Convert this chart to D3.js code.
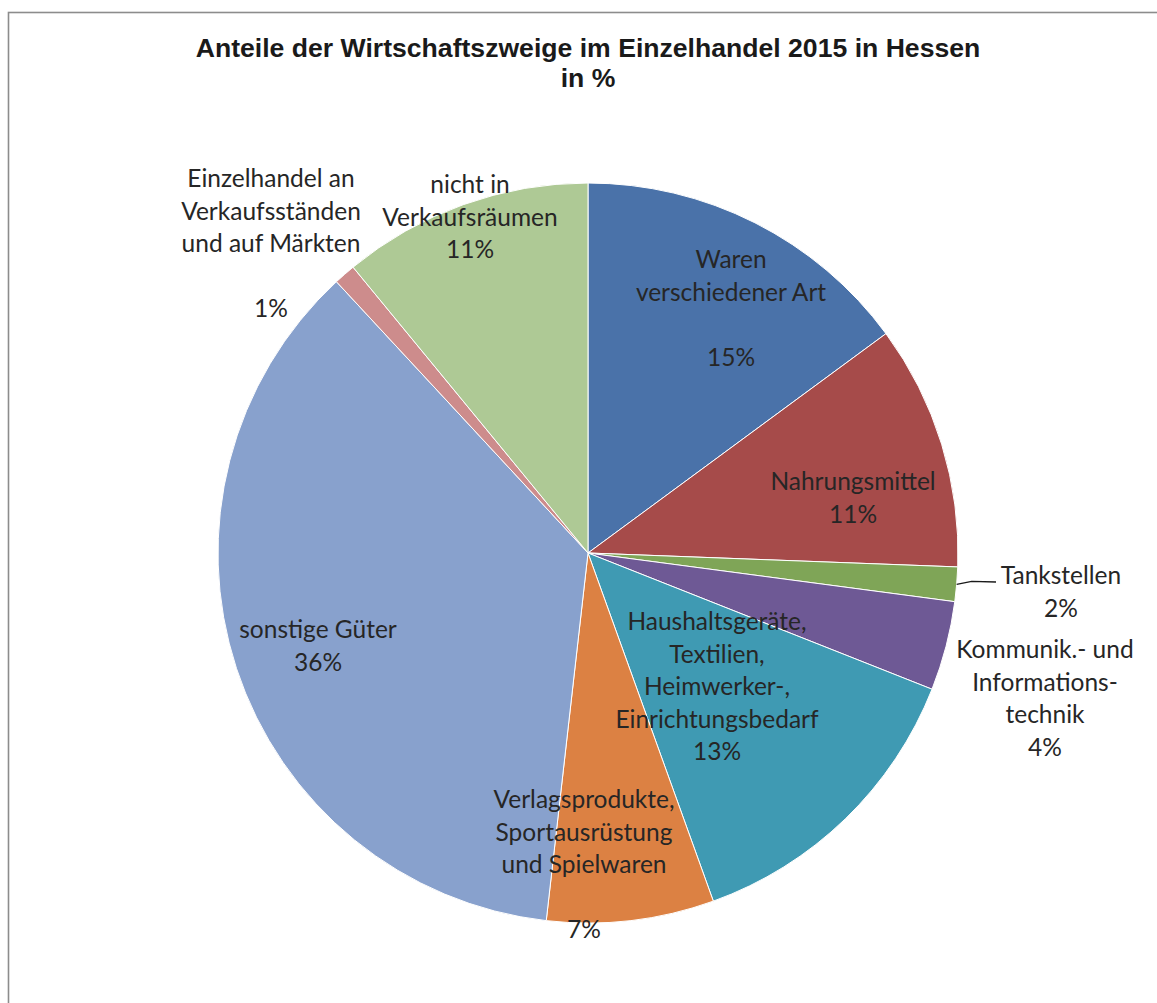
<!DOCTYPE html>
<html>
<head>
<meta charset="utf-8">
<script src="https://cdn.jsdelivr.net/npm/d3@7"></script>
<style>
  body { margin: 0; background: #fff; }
  svg { display: block; }
</style>
</head>
<body>
<script>
// Data, clockwise from 12 o'clock
var categories = ["Waren verschiedener Art", "Nahrungsmittel", "Tankstellen",
  "Kommunik.- und Informationstechnik", "Haushaltsgeräte, Textilien, Heimwerker-, Einrichtungsbedarf",
  "Verlagsprodukte, Sportausrüstung und Spielwaren", "sonstige Güter",
  "Einzelhandel an Verkaufsständen und auf Märkten", "nicht in Verkaufsräumen"]
var values = [14.9, 10.7, 1.5, 3.9, 13.5, 7.3, 36.3, 0.95, 10.95]
var percentLabels = ["15%", "11%", "2%", "4%", "13%", "7%", "36%", "1%", "11%"]
var labelLines = [
  ["Waren", "verschiedener Art", "", "15%"],
  ["Nahrungsmittel", "11%"],
  ["Tankstellen", "2%"],
  ["Kommunik.- und", "Informations-", "technik", "4%"],
  ["Haushaltsgeräte,", "Textilien,", "Heimwerker-,", "Einrichtungsbedarf", "13%"],
  ["Verlagsprodukte,", "Sportausrüstung", "und Spielwaren", "", "7%"],
  ["sonstige Güter", "36%"],
  ["Einzelhandel an", "Verkaufsständen", "und auf Märkten", "", "1%"],
  ["nicht in", "Verkaufsräumen", "11%"]
]
var colors = ["#4a72a9", "#a64b4a", "#7fa557", "#6e5995", "#3f9ab3",
  "#dc8143", "#88a1cd", "#cd8c8c", "#aec995"]

var w = 1157
var h = 1003
var cx = 588, cy = 553, r = 370
var lineH = 32.5

// where each label's first line sits, relative to the pie centre
var labelAnchor = [
  [143, -285], [265, -63], [473, 31], [457, 105], [129, 77],
  [-4, 255], [-270, 85], [-317, -366], [-118, -360]
]

var svg = d3.select("body").append("svg")
  .attr("width", w)
  .attr("height", h)

svg.append("rect")
  .attr("x", 8.5).attr("y", 12.5)
  .attr("width", 1200).attr("height", 1100)
  .attr("fill", "none")
  .attr("stroke", "#8c8c8c")
  .attr("stroke-width", 1.6)

// title
var title = svg.append("text")
  .attr("x", cx)
  .attr("text-anchor", "middle")
  .style("font-family", "'Liberation Sans', Arial, sans-serif")
  .style("font-weight", "bold")
  .style("font-size", "26.6px")
  .attr("fill", "#1a1a1a")
title.append("tspan").attr("x", cx).attr("y", 57).text("Anteile der Wirtschaftszweige im Einzelhandel 2015 in Hessen")
title.append("tspan").attr("x", cx).attr("y", 87).text("in %")

var pie = d3.pie().sort(null).value((d) => d)
var arcs = pie(values)
var arc = d3.arc().innerRadius(0).outerRadius(r)

var g = svg.append("g").attr("transform", "translate(" + cx + "," + cy + ")")

g.selectAll("path")
  .data(arcs)
  .enter()
  .append("path")
  .attr("d", arc)
  .attr("fill", (d, i) => colors[i])
  .attr("stroke", "#fff")
  .attr("stroke-width", 1)

// leader line for Tankstellen
var tank = arcs[2]
var midA = (tank.startAngle + tank.endAngle) / 2
var p0 = [Math.sin(midA) * r, -Math.cos(midA) * r]
g.append("polyline")
  .attr("points", [p0, [p0[0] + 15, p0[1] - 3], [408, 29]].map((p) => p.join(",")).join(" "))
  .attr("fill", "none")
  .attr("stroke", "#1a1a1a")
  .attr("stroke-width", 1.3)

// labels
var labels = g.selectAll("text.lbl")
  .data(labelLines)
  .enter()
  .append("text")
  .attr("class", "lbl")
  .attr("text-anchor", "middle")
  .style("font-family", "Lato, 'Open Sans', sans-serif")
  .style("font-size", "24.5px")
  .attr("fill", "#262626")

labels.each(function(lines, i) {
  var t = d3.select(this)
  lines.forEach(function(line, j) {
    t.append("tspan")
      .attr("x", labelAnchor[i][0])
      .attr("y", labelAnchor[i][1] + j * lineH)
      .text(line)
  })
})
</script>
</body>
</html>
